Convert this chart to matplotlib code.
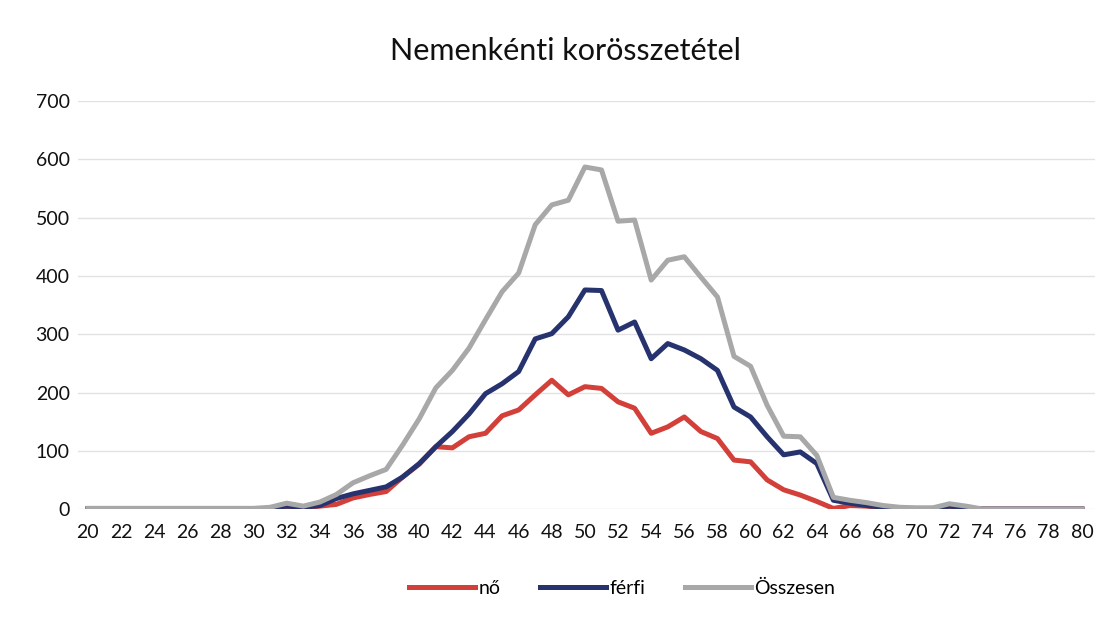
import matplotlib.pyplot as plt

# korcsoportok (évek)
kor = list(range(20, 81))

# értékek, 20-tól 80 évig
no = [1, 1, 1, 1, 1, 1, 1, 1, 1, 1, 1, 1,
      3, 2, 5, 8, 19, 25, 30, 55, 77, 107, 105, 124, 130, 160, 170, 196, 221, 196,
      210, 207, 184, 173, 130, 141, 158, 133, 121, 84, 81, 50, 33, 24, 13, 1,
      6, 5, 2, 1, 1, 1, 4, 2, 0, 0, 0, 0, 0, 0, 0]
ferfi = [0, 0, 0, 0, 0, 0, 0, 0, 0, 0, 0, 1,
         5, 3, 6, 18, 26, 32, 38, 55, 78, 107, 133, 163, 198, 215, 236, 292, 301, 330,
         376, 375, 307, 321, 258, 284, 273, 258, 238, 175, 158, 124, 93, 98, 78, 15,
         10, 6, 3, 1, 1, 1, 5, 2, 0, 0, 0, 0, 0, 0, 0]
osszesen = [1, 1, 1, 1, 1, 1, 1, 1, 1, 1, 1, 3,
            10, 5, 12, 25, 45, 57, 68, 110, 155, 208, 238, 276, 325, 373, 405, 488, 522, 530,
            587, 582, 494, 496, 393, 427, 433, 398, 364, 262, 245, 178, 125, 124, 92, 20,
            15, 11, 6, 3, 2, 2, 9, 5, 0, 0, 0, 0, 0, 0, 0]

plt.rcParams['font.family'] = ['Lato', 'DejaVu Sans']

fig = plt.figure(figsize=(11.08, 6.17), dpi=100)
ax = fig.add_axes([0.0704, 0.175, 0.918, 0.661])

ax.plot(kor, no, color='#d3403a', lw=3.6, label='nő', solid_joinstyle='round')
ax.plot(kor, ferfi, color='#26336e', lw=3.6, label='férfi', solid_joinstyle='round')
ax.plot(kor, osszesen, color='#a8a8a8', lw=3.6, label='Összesen', solid_joinstyle='round')

ax.set_xlim(19.4, 80.8)
ax.set_ylim(0, 700)
ax.set_xticks(list(range(20, 81, 2)))
ax.set_yticks(list(range(0, 701, 100)))
ax.tick_params(axis='both', length=0, labelsize=14, colors='#111111')
ax.tick_params(axis='x', pad=11)
ax.tick_params(axis='y', pad=6)
ax.grid(axis='y', color='#e2e2e2', lw=1)
for s in ax.spines.values():
    s.set_visible(False)

fig.suptitle('Nemenkénti korösszetétel', x=0.51, y=0.94, fontsize=22, color='#111111')

ax.legend(loc='upper center', bbox_to_anchor=(0.535, -0.13), ncol=3, frameon=False,
          fontsize=14, handlelength=3.4, handletextpad=0.2, columnspacing=2.0)

fig.savefig('out.png', dpi=100, facecolor='white')
